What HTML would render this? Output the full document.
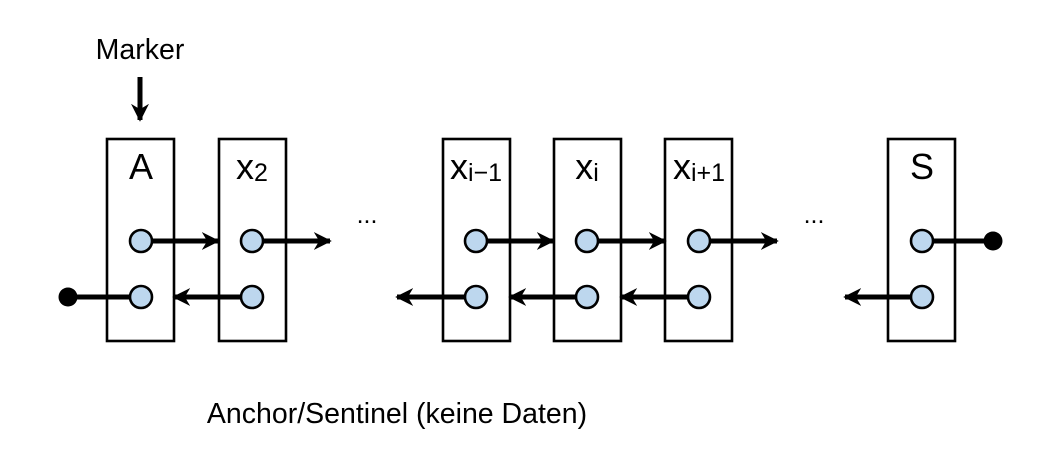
<!DOCTYPE html>
<html><head><meta charset="utf-8"><style>
body{margin:0;background:#fff}
svg text{font-family:"Liberation Sans",sans-serif;fill:#000}
</style></head><body>
<svg width="1041" height="462" viewBox="0 0 1041 462">
<defs>
<marker id="ah" viewBox="0 0 10 10" refX="9" refY="5" markerWidth="3.6" markerHeight="3.6" orient="auto" markerUnits="strokeWidth">
<path d="M0,0 L10,5 L0,10 L3,5 Z" fill="#000"/>
</marker>
</defs>
<text x="140" y="59" font-size="28.5" text-anchor="middle">Marker</text>
<line x1="140" y1="77" x2="140" y2="120" stroke="#000" stroke-width="5" marker-end="url(#ah)"/>
<g stroke="#000" stroke-width="2.6" fill="#fff">
<rect x="107" y="139" width="67" height="202"/>
<rect x="219" y="139" width="67" height="202"/>
<rect x="443" y="139" width="67" height="202"/>
<rect x="554" y="139" width="67" height="202"/>
<rect x="665" y="139" width="67" height="202"/>
<rect x="888" y="139" width="67" height="202"/>
</g>
<g font-size="36" text-anchor="middle">
<text x="141" y="179">A</text>
<text x="252" y="179">x<tspan font-size="25" dy="2">2</tspan></text>
<text x="476" y="179">x<tspan font-size="25" dy="2">i−1</tspan></text>
<text x="587" y="179">x<tspan font-size="25" dy="2">i</tspan></text>
<text x="699" y="179">x<tspan font-size="25" dy="2">i+1</tspan></text>
<text x="922" y="179">S</text>
</g>
<text x="367" y="223" font-size="25" text-anchor="middle">...</text>
<text x="814" y="223" font-size="25" text-anchor="middle">...</text>
<g stroke="#000" stroke-width="5" fill="none">
<line x1="141" y1="241" x2="218" y2="241" marker-end="url(#ah)"/>
<line x1="252" y1="241" x2="330" y2="241" marker-end="url(#ah)"/>
<line x1="476" y1="241" x2="553" y2="241" marker-end="url(#ah)"/>
<line x1="587" y1="241" x2="665" y2="241" marker-end="url(#ah)"/>
<line x1="699" y1="241" x2="777" y2="241" marker-end="url(#ah)"/>
<line x1="922" y1="241" x2="993" y2="241"/>
<line x1="141" y1="297" x2="68" y2="297"/>
<line x1="252" y1="297" x2="174" y2="297" marker-end="url(#ah)"/>
<line x1="476" y1="297" x2="397" y2="297" marker-end="url(#ah)"/>
<line x1="587" y1="297" x2="510" y2="297" marker-end="url(#ah)"/>
<line x1="699" y1="297" x2="621" y2="297" marker-end="url(#ah)"/>
<line x1="922" y1="297" x2="845" y2="297" marker-end="url(#ah)"/>
</g>
<circle cx="993" cy="241" r="9.5" fill="#000"/>
<circle cx="68" cy="297" r="9.5" fill="#000"/>
<g fill="#bdd7ee" stroke="#000" stroke-width="2.6">
<circle cx="141" cy="241" r="11"/>
<circle cx="252" cy="241" r="11"/>
<circle cx="476" cy="241" r="11"/>
<circle cx="587" cy="241" r="11"/>
<circle cx="699" cy="241" r="11"/>
<circle cx="922" cy="241" r="11"/>
<circle cx="141" cy="297" r="11"/>
<circle cx="252" cy="297" r="11"/>
<circle cx="476" cy="297" r="11"/>
<circle cx="587" cy="297" r="11"/>
<circle cx="699" cy="297" r="11"/>
<circle cx="922" cy="297" r="11"/>
</g>
<text x="397" y="423" font-size="28.5" text-anchor="middle">Anchor/Sentinel (keine Daten)</text>
</svg>
</body></html>
